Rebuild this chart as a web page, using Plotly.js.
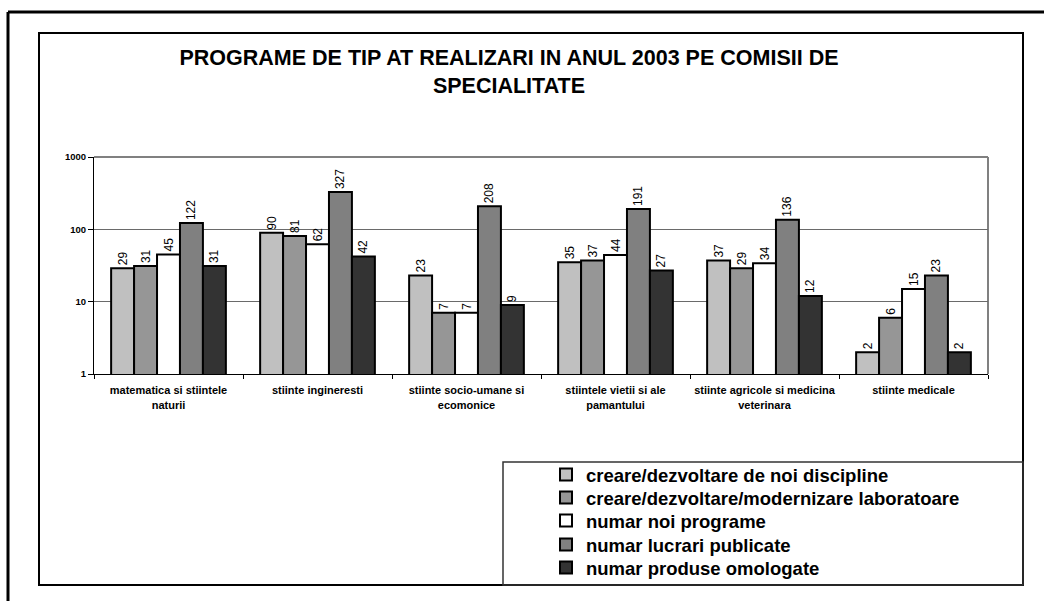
<!DOCTYPE html>
<html>
<head>
<meta charset="utf-8">
<script src="https://cdn.plot.ly/plotly-3.0.1.min.js"></script>
<style>html,body{margin:0;padding:0;background:#fff;}#chart{width:1044px;height:601px;}</style>
</head>
<body>
<div id="chart"></div>
<script>
const categories = [
  "matematica si stiintele<br>naturii",
  "stiinte ingineresti",
  "stiinte socio-umane si<br>ecomonice",
  "stiintele vietii si ale<br>pamantului",
  "stiinte agricole si medicina<br>veterinara",
  "stiinte medicale"
];
const seriesNames = [
  "creare/dezvoltare de noi discipline",
  "creare/dezvoltare/modernizare laboratoare",
  "numar noi programe",
  "numar lucrari publicate",
  "numar produse omologate"
];
const disciplines = [29, 90, 23, 35, 37, 2];
const laboratoare = [31, 81, 7, 37, 29, 6];
const programe = [45, 62, 7, 44, 34, 15];
const lucrari = [122, 327, 208, 191, 136, 23];
const produse = [31, 42, 9, 27, 12, 2];
const seriesValues = [disciplines, laboratoare, programe, lucrari, produse];
const seriesColors = ["#c0c0c0", "#969696", "#ffffff", "#808080", "#333333"];
const yTickVals = [1, 10, 100, 1000];

const FONT = "Liberation Sans, Arial, sans-serif";

// plot area in pixels: x 94..988, y 157..374
const L = 94, R = 988, T = 157, B = 374;
const px = v => (v - L) / (R - L);
const py = v => (B - v) / (B - T);

const legendIds = ["legend", "legend2", "legend3", "legend4", "legend5"];
const legendRowY = [475, 498, 521, 545, 568];

const traces = seriesValues.map((vals, i) => ({
  type: "bar",
  name: seriesNames[i],
  x: categories,
  y: vals,
  text: vals.map(String),
  textposition: "outside",
  textangle: -90,
  cliponaxis: false,
  textfont: {family: FONT, size: 12, color: "#000"},
  marker: {color: seriesColors[i], line: {color: "#000", width: 2}},
  legend: legendIds[i]
}));

const layout = {
  width: 1044, height: 601,
  margin: {l: L, r: 1044 - R, t: T, b: 601 - B, pad: 0},
  paper_bgcolor: "#fff",
  plot_bgcolor: "#fff",
  font: {family: FONT, color: "#000"},
  barmode: "group",
  bargap: 0.23,
  bargroupgap: 0,
  title: {
    text: "<b>PROGRAME DE TIP AT REALIZARI IN ANUL 2003 PE COMISII DE<br>SPECIALITATE</b>",
    font: {family: FONT, size: 21.5, color: "#000"},
    xref: "container", yref: "container",
    x: 509 / 1044, xanchor: "center",
    y: 1 - 65 / 601, yanchor: "top"
  },
  xaxis: {
    type: "category",
    showline: true, linecolor: "#000", linewidth: 1,
    ticks: "outside", ticklen: 4, tickcolor: "#000", tickson: "boundaries",
    tickangle: 0,
    ticklabelstandoff: 6,
    tickfont: {family: FONT, size: 11, color: "#000", weight: "bold"},
    showgrid: false, fixedrange: true
  },
  yaxis: {
    type: "log",
    range: [0, 3],
    tickvals: yTickVals,
    ticktext: yTickVals.map(v => "<b>" + v + "</b>"),
    showline: true, linecolor: "#000", linewidth: 1,
    ticks: "outside", ticklen: 5, tickcolor: "#000",
    tickfont: {family: FONT, size: 9.5, color: "#000"},
    showgrid: true, gridcolor: "#6a6a6a", gridwidth: 1,
    zeroline: false, fixedrange: true
  },
  showlegend: true,
  shapes: [
    // outer page frame (top + left)
    {type: "line", xref: "paper", yref: "paper", x0: px(8), x1: px(1044), y0: py(12), y1: py(12), line: {color: "#000", width: 3}},
    {type: "line", xref: "paper", yref: "paper", x0: px(8), x1: px(8), y0: py(12), y1: py(601), line: {color: "#000", width: 3}},
    // chart frame
    {type: "rect", xref: "paper", yref: "paper", x0: px(39), x1: px(1023), y0: py(33), y1: py(585), line: {color: "#000", width: 2}, layer: "below"},
    // plot area border (top, right gray)
    {type: "line", xref: "paper", yref: "paper", x0: 1, x1: 1, y0: 0, y1: 1, line: {color: "#808080", width: 2}, layer: "below"},
    {type: "line", xref: "paper", yref: "paper", x0: 0, x1: 1, y0: 1, y1: 1, line: {color: "#808080", width: 2}, layer: "below"},
    // legend box
    {type: "rect", xref: "paper", yref: "paper", x0: px(503), x1: px(1023), y0: py(462), y1: py(585), line: {color: "#333", width: 1.5}, layer: "below"}
  ]
};

legendIds.forEach((id, i) => {
  layout[id] = {
    x: px(546), y: py(legendRowY[i]), xanchor: "left", yanchor: "middle",
    bgcolor: "rgba(0,0,0,0)", borderwidth: 0,
    font: {family: FONT, size: 18.5, color: "#000", weight: "bold"},
    itemwidth: 30
  };
});

Plotly.newPlot("chart", traces, layout, {displayModeBar: false, staticPlot: true});
</script>
</body>
</html>
